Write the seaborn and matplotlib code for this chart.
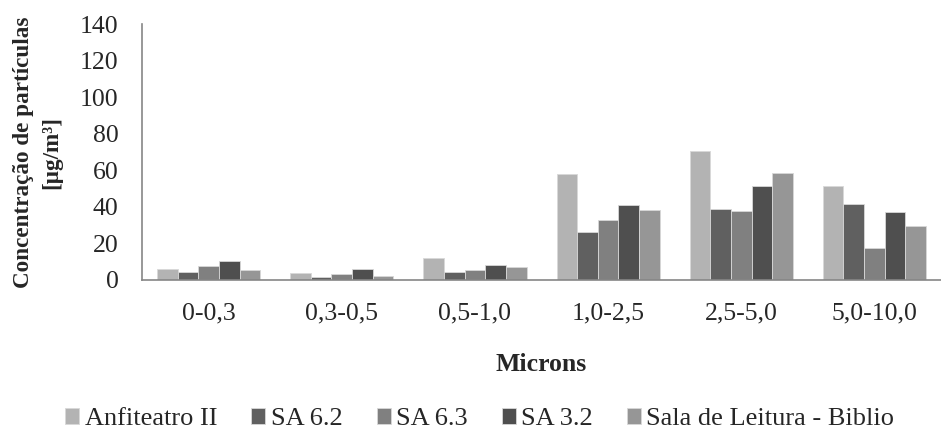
import numpy as np
import pandas as pd
import seaborn as sns
import matplotlib.pyplot as plt
from matplotlib.ticker import FixedLocator

# Particle size bins (microns)
categories = ["0-0,3", "0,3-0,5", "0,5-1,0", "1,0-2,5", "2,5-5,0", "5,0-10,0"]

# Mass concentration per room [µg/m³]
anfiteatro_ii = [5.8, 4.0, 12.0, 57.8, 70.5, 51.5]
sa_6_2 = [4.5, 1.8, 4.5, 26.1, 38.8, 41.4]
sa_6_3 = [7.6, 3.3, 5.6, 33.0, 37.5, 17.5]
sa_3_2 = [10.5, 6.0, 8.0, 41.2, 51.2, 37.0]
sala_leitura = [5.3, 2.2, 6.9, 38.4, 58.3, 29.5]

series_names = ["Anfiteatro II", "SA 6.2", "SA 6.3", "SA 3.2", "Sala de Leitura - Biblio"]
series_values = [anfiteatro_ii, sa_6_2, sa_6_3, sa_3_2, sala_leitura]
colors = ["#b3b3b3", "#606060", "#808080", "#4f4f4f", "#969696"]

df = pd.DataFrame(
    [(cat, name, v)
     for name, vals in zip(series_names, series_values)
     for cat, v in zip(categories, vals)],
    columns=["Microns", "Local", "Conc"],
)

sns.set_style("white")
plt.rcParams["font.family"] = ["Liberation Serif", "DejaVu Serif"]

fs = 18.5
fig = plt.figure(figsize=(9.41, 4.30), dpi=100)
ax = fig.add_axes([0.151, 0.349, 0.849, 0.595])

sns.barplot(
    data=df, x="Microns", y="Conc", hue="Local", order=categories,
    hue_order=series_names, palette=colors, width=0.775, gap=0,
    edgecolor="#d8d8d8", linewidth=0.6, errorbar=None, ax=ax,
)

axis_grey = "#868686"
ax.set_xlim(-0.5, len(categories) - 0.5)
ax.set_ylim(0, 140)
ax.set_yticks(np.arange(0, 141, 20))
ax.tick_params(axis="y", labelsize=fs, length=5, width=1, color=axis_grey,
               direction="out", pad=12)
ax.tick_params(axis="x", which="major", labelsize=fs, length=0, pad=16)
ax.xaxis.set_minor_locator(FixedLocator(np.arange(-0.5, len(categories), 1.0)))
ax.tick_params(axis="x", which="minor", length=5, width=1, color=axis_grey,
               direction="out")

for side in ("top", "right"):
    ax.spines[side].set_visible(False)
for side in ("left", "bottom"):
    ax.spines[side].set_color(axis_grey)
    ax.spines[side].set_linewidth(1.2)

ax.set_xlabel("Microns", fontsize=fs, fontweight="bold", labelpad=21)
ax.set_ylabel("Concentração de partículas\n[µg/m³]", fontsize=16.7,
              fontweight="bold", linespacing=1.45)
ax.yaxis.label.set_va("center")
ax.yaxis.set_label_coords(-0.131, 0.5)

ax.legend(
    loc="center", bbox_to_anchor=(0.51, 0.025),
    bbox_transform=fig.transFigure, ncol=5, frameon=False, fontsize=19,
    handlelength=0.53, handleheight=0.53, handletextpad=0.2,
    columnspacing=1.3, title=None, borderpad=0,
)

fig.savefig("out.png", dpi=100)
